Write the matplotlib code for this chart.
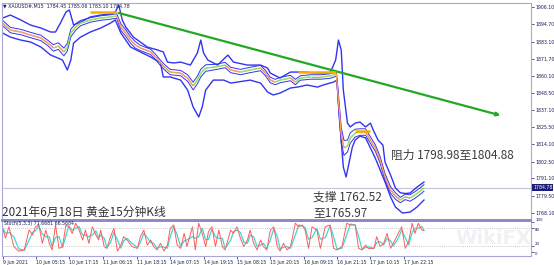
import numpy as np
import pandas as pd
import matplotlib
matplotlib.use("Agg")
import matplotlib.pyplot as plt
import matplotlib.transforms as mtrans
from matplotlib.collections import LineCollection

W, H = 554, 265
CJK = ["Noto Sans CJK SC", "DejaVu Sans"]

# ---- price panel (x = bar index, y = price) ----
mid_bar = [0, 11, 26, 40, 55, 65, 73, 80, 88, 93, 98, 105, 112, 126, 141, 155, 164, 170, 177, 184,
           191, 198, 213, 220, 227, 234, 241, 256, 266, 274, 280, 285, 292, 306, 320, 328, 342, 356,
           371, 378, 385, 392, 399, 414, 421, 428, 443, 457, 471,
           480, 483, 487, 491, 496, 500, 507, 514, 522, 529, 536, 543, 550, 558, 565, 572, 579, 586,
           593, 601, 606]
mid_px = [1895.5, 1890.8, 1889.5, 1887.5, 1885.5, 1882.1, 1878.8, 1880.1, 1876.1, 1879.4, 1888.8,
          1892.9, 1895.5, 1897.6, 1898.9, 1899.6, 1900.3, 1892.9, 1888.8, 1884.1, 1880.8, 1878.8,
          1876.1, 1872.7, 1868.7, 1865.3, 1862.6, 1861.9, 1858.6, 1853.2, 1857.2, 1861.9, 1865.3,
          1866.0, 1867.3, 1864.0, 1862.6, 1864.0, 1865.3, 1861.9, 1857.2, 1855.9, 1857.2, 1858.6,
          1855.9, 1858.6, 1859.3, 1859.3, 1859.9,
          1861.3, 1843.8, 1820.3, 1811.6, 1812.9, 1818.3, 1821.6, 1822.3, 1822.3, 1816.9, 1811.6,
          1803.5, 1792.1, 1783.3, 1779.3, 1776.6, 1778.7, 1778.0, 1780.0, 1782.7, 1784.78]
inner_w = [1.8, 1.8, 1.8, 1.8, 1.8, 1.8, 2.2, 2.2, 2.6, 2.6, 2.6, 2.2, 1.8, 1.5, 1.5, 1.5, 1.5, 2.2, 2.2, 2.2,
           2.2, 1.8, 1.8, 1.8, 1.8, 1.8, 1.8, 1.8, 2.2, 2.6, 2.6, 2.6, 2.2, 1.8, 1.8, 1.8, 1.8, 1.8,
           1.8, 1.8, 1.8, 1.8, 1.8, 1.8, 1.8, 1.5, 1.5, 1.5, 1.5,
           1.5, 4, 5, 5, 4, 3.5, 2.6, 2.2, 2.2, 2.2, 2.2, 2.2, 2.2, 2.2, 2.2, 1.8, 1.8, 2.2, 2.2, 2.2, 2.2]

up_bar = [0, 11, 26, 40, 55, 69, 76, 83, 91, 96, 102, 112, 126, 141, 155, 162, 167, 172, 177, 188,
          198, 208, 223, 231, 237, 246, 256, 270, 280, 285, 289, 295, 309, 324, 332, 352, 371, 381,
          385, 399, 414, 433, 453, 471, 479, 483, 487, 490, 496, 500, 507, 514, 522, 529, 533, 540,
          547, 550, 558, 565, 572, 579, 586, 596, 606]
up_px = [1898.9, 1900.9, 1897.6, 1894.2, 1892.2, 1889.5, 1889.5, 1895.5, 1902.9, 1904.3, 1894.2,
         1896.2, 1899.6, 1900.9, 1901.6, 1902.9, 1907.6, 1897.6, 1892.9, 1886.1, 1882.8, 1879.4,
         1877.4, 1876.1, 1869.3, 1868.7, 1869.3, 1867.3, 1875.4, 1884.1, 1875.4, 1870.7, 1867.3,
         1874.0, 1869.3, 1867.3, 1867.3, 1865.3, 1861.9, 1858.6, 1862.6, 1862.6, 1861.9, 1861.9,
         1870.7, 1884.1, 1877.4, 1850.5, 1828.3, 1825.7, 1828.3, 1829.0, 1825.7, 1828.3, 1823.7,
         1816.9, 1813.5, 1802.1, 1793.4, 1784.7, 1781.5, 1781.0, 1781.3, 1785.3, 1788.7]

lo_bar = [0, 11, 26, 40, 55, 69, 76, 86, 93, 98, 102, 112, 126, 141, 155, 162, 170, 184, 198, 213,
          227, 231, 241, 256, 266, 274, 282, 287, 292, 303, 318, 328, 338, 356, 371, 381, 389, 399,
          414, 424, 438, 453, 461, 476, 481, 484, 490, 494, 497, 503, 507, 514, 522, 529, 536, 543,
          550, 558, 565, 575, 586, 596, 606]
lo_px = [1888.8, 1886.1, 1884.1, 1882.8, 1879.4, 1874.0, 1872.7, 1870.7, 1864.0, 1870.7, 1882.1,
         1886.1, 1889.5, 1892.2, 1895.5, 1897.6, 1888.8, 1879.4, 1876.1, 1872.7, 1868.7, 1859.3,
         1859.3, 1857.2, 1850.5, 1839.1, 1832.4, 1839.1, 1850.5, 1857.2, 1857.2, 1855.2, 1855.9,
         1857.2, 1855.2, 1849.2, 1847.2, 1848.5, 1851.9, 1852.5, 1853.9, 1852.5, 1853.9, 1855.9,
         1857.2, 1833.7, 1798.8, 1792.1, 1798.8, 1812.2, 1816.9, 1819.6, 1818.3, 1811.6, 1804.8,
         1796.8, 1788.7, 1778.7, 1771.9, 1767.9, 1768.5, 1771.9, 1776.6]

lvl_x0 = [126, 425, 507]
lvl_x1 = [164, 480, 529]
lvl_px = [1902.9, 1862.6, 1823.0]

trend_bar = [167, 716]
trend_px = [1902.3, 1833.5]

last_price = 1784.78
price_ticks = [1906.10, 1894.70, 1883.10, 1871.70, 1860.10, 1848.50, 1837.10, 1825.50,
               1814.10, 1802.50, 1791.10, 1779.50, 1768.10]

# ---- stochastic panel ----
stoch_bar = [0, 4, 9, 16, 23, 31, 38, 43, 47, 52, 57, 62, 67, 71, 76, 81, 86, 91, 95, 100, 105,
             110, 115, 119, 124, 129, 134, 138, 141, 146, 150, 155, 160, 165, 170, 174, 179, 186,
             194, 198, 203, 208, 213, 217, 222, 227, 232, 237, 241, 246, 251, 256, 261, 265, 273,
             277, 282, 287, 292, 296, 301, 306, 311, 316, 320, 328, 332, 337, 342, 347, 352, 356,
             361, 366, 371, 375, 380, 385, 390, 395, 399, 404, 409, 414, 421, 426, 431, 435, 440,
             445, 452, 457, 464, 471, 476, 481, 488, 495, 500, 507, 512, 517, 522, 526, 534, 538,
             543, 548, 553, 558, 562, 569, 574, 579, 584, 589, 593, 598, 603, 606]
stoch_k = [79, 46, 84, 18, 3, 7, 73, 57, 84, 90, 29, 73, 29, 7, 90, 12, 18, 90, 84, 62, 96,
           73, 40, 73, 29, 84, 57, 40, 73, 18, 12, 51, 79, 3, 23, 51, 40, 18,
           12, 51, 73, 23, 40, 18, 7, 29, 3, 23, 79, 90, 23, 12, 62, 18, 84,
           7, 96, 62, 18, 68, 84, 18, 73, 18, 7, 73, 62, 84, 46, 18, 40, 73,
           29, 7, 40, 18, 7, 73, 84, 18, 3, 29, 7, 18, 96, 84, 90, 73, 12,
           84, 73, 12, 84, 90, 12, 7, 18, 96, 90, 90, 12, 7, 23, 12, 12, 51,
           18, 29, 62, 12, 29, 62, 84, 12, 35, 96, 62, 96, 73, 71.7]
stoch_ticks = [100, 80, 20, 0]
stoch_va = ["bottom", "top", "bottom", "top"]

time_bar = [0, 48, 96, 145, 193, 241, 289, 337, 385, 433, 481, 529, 577]
time_lbl = ["9 Jun 2021", "10 Jun 05:15", "10 Jun 17:15", "11 Jun 06:15", "11 Jun 18:15",
            "14 Jun 07:15", "14 Jun 19:15", "15 Jun 08:15", "15 Jun 20:15", "16 Jun 09:15",
            "16 Jun 21:15", "17 Jun 10:15", "17 Jun 22:15"]

BAND = "#3434f0"
EDGE = "#a8a8d8"
TXT = "#1a1a55"


def box(x0, y0, x1, y1):
    return [x0 / W, 1 - y1 / H, (x1 - x0) / W, (y1 - y0) / H]


def fxy(x, y):
    return x / W, 1 - y / H


fig = plt.figure(figsize=(W / 100, H / 100), dpi=100)
fig.patch.set_facecolor("white")
ax = fig.add_axes(box(2, 3, 531, 220))
sx = fig.add_axes(box(2, 221, 531, 256))

# bands and candles
mid = np.array(mid_px)
w = np.array(inner_w)
ax.plot(up_bar, up_px, color=BAND, lw=1.0)
ax.plot(lo_bar, lo_px, color=BAND, lw=1.0)
ax.plot(mid_bar, mid + w, color=BAND, lw=0.7)
ax.plot(mid_bar, mid - w, color=BAND, lw=0.7)
pts = np.column_stack([mid_bar, mid])
segs = np.stack([pts[:-1], pts[1:]], axis=1)
cols = ["#50e050" if b >= a else "#ff6060" for a, b in zip(mid[:-1], mid[1:])]
ax.add_collection(LineCollection(segs, colors=cols, linewidths=1.0, zorder=3))
ax.plot(mid_bar, mid, color="#e8d860", lw=0.4, zorder=3.5)

ax.hlines(lvl_px, lvl_x0, lvl_x1, color="#ffaa00", lw=1.8, zorder=4)
ax.annotate("", xy=(trend_bar[1], trend_px[1]), xytext=(trend_bar[0], trend_px[0]),
            arrowprops=dict(arrowstyle="-|>", color="#22a822", lw=1.6, mutation_scale=5,
                            shrinkA=0, shrinkB=0))
ax.axhline(last_price, color="#c4c4d4", lw=0.8, zorder=1)

ax.set_xlim(-1, 760)
ax.set_ylim(1763.2, 1909.0)
ax.set_xticks([])
ax.yaxis.tick_right()
ax.set_yticks(price_ticks)
ax.set_yticklabels([f"{p:.2f}" for p in price_ticks])
ax.tick_params(axis="y", labelsize=3.3, length=2, width=0.5, pad=1, colors=TXT)
for s in ax.spines.values():
    s.set_color(EDGE)
    s.set_linewidth(0.8)
ax.spines["bottom"].set_color("#8a8ac8")
ax.spines["bottom"].set_linewidth(1.4)

tr = mtrans.blended_transform_factory(ax.transAxes, ax.transData)
ax.text(1.004, last_price, f"{last_price:.2f}", transform=tr, ha="left", va="center",
        fontsize=3.3, color="white", clip_on=False,
        bbox=dict(boxstyle="square,pad=0.2", fc="#1c1c7c", ec="none"))

# stochastic
k = pd.Series(stoch_k, dtype=float)
d = k.rolling(2, min_periods=1).mean()
sx.text(455 / W, 1 - 239 / H, "WikiFX", transform=fig.transFigure, fontsize=14,
        fontweight="bold", color="#f0f0f5", ha="left", va="center", zorder=0.5)
sx.plot(stoch_bar, d, color="#3fd8d0", lw=0.9)
sx.plot(stoch_bar, k, color="#ff5a5a", lw=0.7)
for lv in (80, 20):
    sx.axhline(lv, ls=(0, (1, 1.5)), color="#b8b8b8", lw=0.6)
sx.set_xlim(-1, 760)
sx.set_ylim(-13.3, 103.3)
sx.yaxis.tick_right()
sx.set_yticks(stoch_ticks)
sx.set_yticklabels([str(t) for t in stoch_ticks])
for lbl, va in zip(sx.get_yticklabels(), stoch_va):
    lbl.set_va(va)
sx.set_xticks(time_bar)
sx.set_xticklabels(time_lbl, ha="left")
sx.tick_params(labelsize=3.3, length=2, width=0.5, pad=1, colors=TXT)
sx.tick_params(axis="y", labelsize=2.8)
for s in sx.spines.values():
    s.set_color(EDGE)
    s.set_linewidth(0.8)
sx.spines["top"].set_color("#8a8ac8")
sx.spines["top"].set_linewidth(1.4)

# annotations
fig.text(*fxy(3, 5.5), "\u25bc XAUUSD#,M15  1784.45 1785.06 1783.10 1784.78",
         fontsize=3.4, color=TXT, va="center")
fig.text(*fxy(4, 223.5), "Stoch(5,3,3) 71.6681 66.5684", fontsize=3.3, color=TXT, va="center")
fig.text(*fxy(391, 155.5), "阻力 1798.98至1804.88", fontsize=8.5, family=CJK,
         color="#3c3c3c", va="center")
fig.text(*fxy(313, 197), "支撑 1762.52", fontsize=8.5, family=CJK, color="#3c3c3c", va="center")
fig.text(*fxy(313, 212.5), "至1765.97", fontsize=8.5, family=CJK, color="#3c3c3c", va="center")
fig.text(*fxy(2, 212), "2021年6月18日 黄金15分钟K线", fontsize=8.5, family=CJK,
         color="#333333", va="center")

fig.savefig("out.png", dpi=100)
